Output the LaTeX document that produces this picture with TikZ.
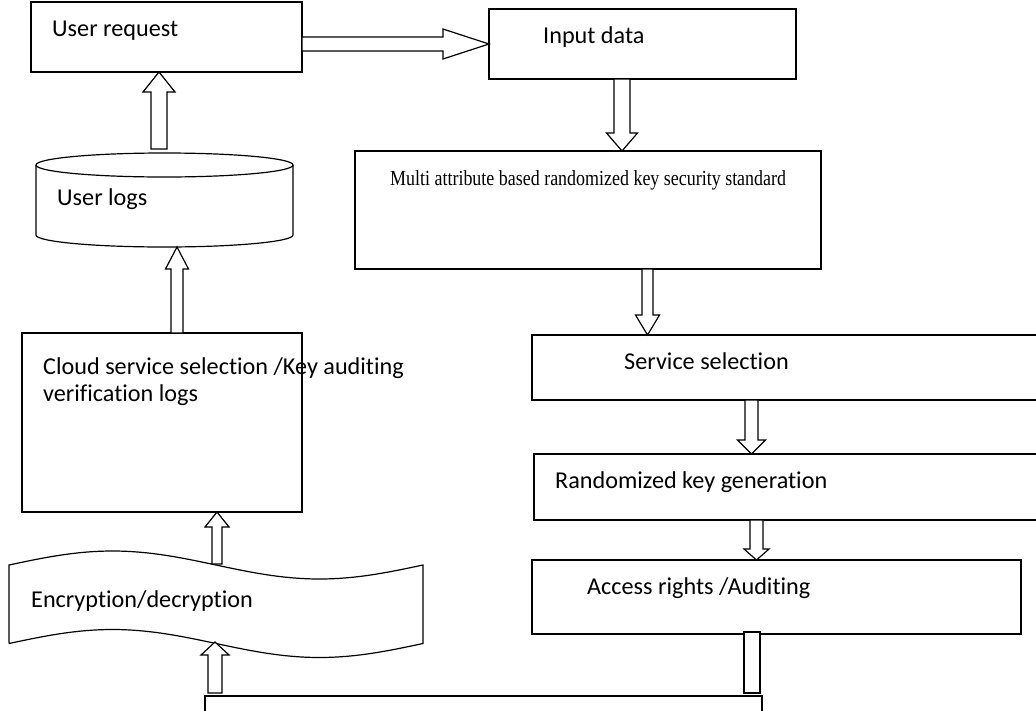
\documentclass[tikz,border=0pt]{standalone}
\usepackage{fontspec}
\setmainfont{Carlito}[Ligatures={NoCommon,NoContextual}]
\newfontfamily\timesf{Liberation Serif}
\usetikzlibrary{calc}

\tikzset{
  shp/.style={draw=black, line width=1.2pt, fill=white, line join=miter},
  box/.style={shp, inner sep=0pt, outer sep=0pt, anchor=north west},
  area/.style={inner sep=0pt, outer sep=0pt, anchor=north west},
  lbl/.style={inner sep=0pt, anchor=base west, font=\fontsize{24.2}{28}\selectfont},
  blk/.style={shp}
}

% block arrow: #1 tail, #2 tip, #3 half shaft width, #4 half head width, #5 head length
\newcommand\fatarrow[5]{%
  \coordinate (fa-h) at ($(#2)!#5!(#1)$);
  \draw[blk] ($(#1)!#3!90:(#2)$) -- ($(fa-h)!#3!90:(#2)$) -- ($(fa-h)!#4!90:(#2)$)
     -- (#2) -- ($(fa-h)!#4!-90:(#2)$) -- ($(fa-h)!#3!-90:(#2)$)
     -- ($(#1)!#3!-90:(#2)$) -- cycle;}

\begin{document}
\begin{tikzpicture}[x=1pt, y=-1pt]
\useasboundingbox (0,0) rectangle (1036,710);
\clip (0,0) rectangle (1036,710);

% ---- boxes ----
\node[box, minimum width=271pt, minimum height=70pt] (ureq) at (31,2) {};
\node[box, minimum width=307pt, minimum height=70pt] (inp) at (489,9) {};
\node[box, minimum width=466pt, minimum height=118pt] (multi) at (355,151) {};
\node[box, minimum width=540pt, minimum height=65pt] (svc) at (532,335) {};
\node[box, minimum width=540pt, minimum height=66pt] (rkg) at (534,454) {};
\node[box, minimum width=489pt, minimum height=74pt] (acc) at (532,560) {};
\node[box, minimum width=557pt, minimum height=60pt] (sink) at (205,696) {};
\node[box, minimum width=280pt, minimum height=179pt] (cloud) at (22,333) {};

% ---- user log store (cylinder) ----
\node[area, minimum width=257pt, minimum height=94pt] (logs) at (36,153) {};
\draw[shp] ([yshift=-12pt]logs.north west) -- ([yshift=12pt]logs.south west)
  arc[start angle=180, end angle=360, x radius=128.5pt, y radius=12pt]
  -- ([yshift=-12pt]logs.north east)
  arc[start angle=0, end angle=180, x radius=128.5pt, y radius=12pt] -- cycle;
\draw[shp, fill=none] ([yshift=-12pt]logs.north west)
  arc[start angle=180, end angle=360, x radius=128.5pt, y radius=12pt];

% ---- encryption tape (wavy banner) ----
\node[area, minimum width=414pt, minimum height=78pt] (enc) at (9,564) {};
\draw[shp] plot[domain=0:1, samples=61, variable=\t] ({9+414*\t},{565-14*sin(360*\t)})
  -- plot[domain=0:1, samples=61, variable=\t] ({423-414*\t},{643.5-14*sin(360*(1-\t))})
  -- cycle;

% ---- texts ----
\node[lbl] (t-ureq) at (52,36) {User request};
\node[lbl] (t-inp) at (543,43) {Input data};
\node[lbl] (t-multi) at (390,185)
  {\scalebox{0.835}[1]{\timesf\fontsize{21.5}{25}\selectfont Multi attribute based randomized key security standard}};
\node[lbl] (t-svc) at (624,369) {Service selection};
\node[lbl] (t-rkg) at (555,488) {Randomized key generation};
\node[lbl] (t-acc) at (587,594) {Access rights /Auditing};
\node[lbl] (t-logs) at (57,205) {User logs};
\node[lbl] (t-cloud1) at (43,374) {Cloud service selection /Key auditing};
\node[lbl] (t-cloud2) at (43,401) {verification logs};
\node[lbl] (t-enc) at (31,607) {Encryption/decryption};

% ---- block arrows ----
\coordinate (a1s) at (ureq.east |- inp.west);
\fatarrow{a1s}{inp.west}{7pt}{15pt}{46pt}

\coordinate (a2s) at ([xshift=-20.5pt]inp.south);
\coordinate (a2t) at (a2s |- multi.north);
\fatarrow{a2s}{a2t}{8pt}{15.5pt}{18pt}

\coordinate (a3s) at ([xshift=59.5pt]multi.south);
\coordinate (a3t) at (a3s |- svc.north);
\fatarrow{a3s}{a3t}{5.5pt}{12pt}{20pt}

\coordinate (a4s) at ([xshift=219.5pt]svc.south west);
\coordinate (a4t) at (a4s |- rkg.north);
\fatarrow{a4s}{a4t}{6.5pt}{14pt}{14pt}

\coordinate (a5s) at ([xshift=222.5pt]rkg.south west);
\coordinate (a5t) at (a5s |- acc.north);
\fatarrow{a5s}{a5t}{6.5pt}{12.5pt}{11pt}

% plain bar from access rights down to the lower box
\coordinate (a6s) at ([xshift=212pt]acc.south west);
\coordinate (a6t) at ([xshift=16pt]a6s |- sink.north);
\draw[shp] ([yshift=2pt]a6s) rectangle ([yshift=3pt]a6t);

\coordinate (a7s) at ([xshift=10pt, yshift=3pt]sink.north west);
\coordinate (a7t) at (a7s |- enc.south);
\fatarrow{a7s}{a7t}{7pt}{14pt}{13pt}

\coordinate (a8s) at ([xshift=1pt]enc.north);
\coordinate (a8t) at (a8s |- cloud.south);
\fatarrow{a8s}{a8t}{5pt}{12pt}{15pt}

\coordinate (a9s) at ([xshift=15pt]cloud.north);
\coordinate (a9t) at (a9s |- logs.south);
\fatarrow{a9s}{a9t}{6pt}{11.5pt}{22pt}

\coordinate (a10s) at ([xshift=-5.5pt, yshift=4pt]logs.north);
\coordinate (a10t) at (a10s |- ureq.south);
\fatarrow{a10s}{a10t}{8pt}{16pt}{20pt}
\end{tikzpicture}
\end{document}
